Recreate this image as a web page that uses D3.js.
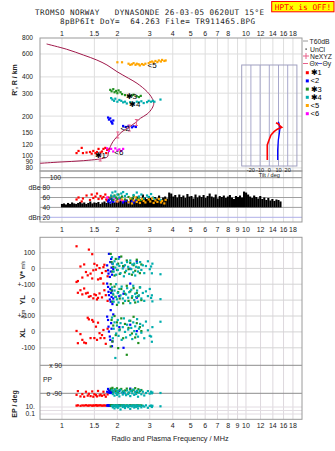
<!DOCTYPE html>
<html><head><meta charset="utf-8">
<script src="https://cdn.jsdelivr.net/npm/d3@7"></script>
<style>
body{margin:0;background:#fff}
svg{display:block}
text{font-family:"Liberation Sans",Arial,sans-serif;fill:#222}
.mono{font-family:"DejaVu Sans Mono","Liberation Mono",monospace;white-space:pre}
</style></head><body><script>
// ---------------- DATA ----------------
const titleLine1 = "TROMSO NORWAY   DYNASONDE 26-03-05 0620UT 15°E";
const titleLine2 = "8pBP6It DoY=  64.263 File= TR911465.BPG";
const warnText = "HPTx is OFF!";
const topTicks = [1,1.5,2,3,4,5,6,7,8,10,12,14,16,18];
const bottomTicks = [1,1.5,2,3,4,5,6,7,8,9,10,12,14,16,18];
const gridFreqs = [1,1.5,2,3,4,5,6,7,8,9,10,12,14,16,18];
const heightTicks = [800,600,400,300,200,150,120,100,90,80];
const dbTicks = [100,80,60,40,20];
const tiltTicks = [-20,-10,0,10,20];

// true-height profile (MHz, km)
const profF = [0.758,0.975,1.307,1.68,1.768,1.79,1.83,1.892,1.99,2.12,2.303,2.506,2.668,2.903,3.09,3.154,3.09,2.903,2.559,2.303,1.99,1.755,1.547,1.307,1.061,0.825];
const profH = [86.8,88.8,90.9,94.8,97.6,106.6,116.4,127.2,139,151.8,164,178,192.4,207.5,230,251,274,308,357,390,439,494,539,589,652,716];
// NeXYZ markers
const neF = [1.613,2.01,2.323,2.537];
const neH = [95.3,143.2,162,178.6];

// echoes: frequency, virtual height, amplitude (dB)
const redF = [1.20,1.23,1.28,1.30,1.36,1.42,1.45,1.48,1.52,1.55,1.58,1.62,1.65,1.68,1.72,1.76,1.79,1.74];
const redH = [104,108,114,104,105,106,103,108,104,106,112,105,107,112,114,110,111,104];
const redA = [56,60,52,58,64,55,66,59,62,68,57,63,58,61,66,54,60,56];
const blueF = [1.78,1.80,1.83,1.85,1.87,1.90,1.88,2.15,2.22,2.30,2.40,2.45,2.52];
const blueH = [195,188,192,182,178,185,175,168,165,168,164,167,165];
const blueA = [52,55,50,57,54,51,56,50,53,49,52,50,54];
const greenF = [1.83,1.86,1.90,1.93,1.97,2.00,2.03,2.08,2.12,2.20,2.30,2.40,2.45,2.55,2.62,2.68];
const greenH = [318,310,322,305,312,300,315,305,295,290,285,288,292,284,280,286];
const greenA = [58,62,55,64,60,57,66,59,62,56,61,58,63,57,60,55];
const cyanF = [1.85,1.88,1.92,1.95,2.00,2.05,2.10,2.15,2.20,2.25,2.35,2.45,2.55,2.62,2.70,2.78,2.90,2.96,3.05,3.12,3.18,3.43];
const cyanH = [275,268,262,272,258,266,262,255,258,250,256,252,258,255,260,252,256,262,258,262,258,268];
const cyanA = [64,70,62,72,66,60,68,71,63,67,59,65,70,62,66,58,64,61,67,60,57,55];
const orangeF = [2.00,2.12,2.30,2.35,2.40,2.45,2.51,2.55,2.61,2.65,2.72,2.78,2.84,2.96,3.02,3.09,3.15,3.22,3.30,3.36,3.45,3.50,3.60,3.66];
const orangeH = [518,518,505,495,500,510,495,505,500,490,502,495,505,510,520,525,515,530,520,535,525,540,530,535];
const orangeA = [52,56,50,58,48,54,60,51,55,49,57,53,50,56,52,58,49,54,51,57,50,53,48,55];
const magF = [1.76,1.80,1.85,1.90,1.95,2.00,2.05,2.10,2.15];
const magH = [113,108,112,107,113,109,111,108,112];
const magA = [60,56,62,54,58,52,57,55,53];

// echo-group centroids: label, freq, height
const centLabels = ["✱1","<2","✱3","✱4","<5","<6"];
const centF = [1.56,2.16,2.30,2.40,3.03,2.00];
const centH = [100,163,285,247,495,106];

// noise (dB tops) from 1.0 to 15.4 MHz
const noiseFmin = 1.0, noiseFmax = 15.4, noiseFloor = 40;
const noiseTop = [47,48,46,49,47,50,48,47,49,51,48,50,47,49,52,48,50,49,51,47,50,52,49,51,48,
 53,50,55,52,57,51,54,56,52,58,60,55,62,58,54,66,60,57,63,59,55,61,58,64,56,60,62,58,
 70,68,62,65,60,66,61,64,59,67,62,63,58,66,60,64,61,65,59,63,68,62,60,66,58,63,61,64,59,62,
 65,60,57,63,61,64,60,72,70,66,62,59,64,61,58,63,57,60,55,59,54,57,53,56,55,52];

// tilt profiles (deg, km)
const tiltXdeg = [-2.2,-2.2,-0.3,1.8,5.1,8.7,13.5,11.6,9.8,7.3];
const tiltXh   = [92,120,131,143,152,158.6,164,168,174,178];
const tiltYdeg = [9.1,9.1,9.8,10.9,11.6,10.5,9.8];
const tiltYh   = [92,110,131,147,161,176,181];

// lower panel: per echo V* (m/s), YL (km), XL (km), PP (deg), EP (deg)
const rLF = [1.20,1.22,1.26,1.29,1.32,1.35,1.38,1.40,1.43,1.46,1.48,1.50,1.53,1.55,1.57,1.60,1.62,1.65,1.68,1.70,1.73,1.77];
const rV  = [140,-80,12,-58,25,-23,-44,119,-33,90,-12,29,-8,19,-70,2,-64,-29,8,23,-17,-50];
const rYL = [114,46,62,36,73,42,46,21,25,136,11,36,31,4,14,42,136,17,104,62,31,-5];
const rXL = [6,-71,-14,-50,-67,-71,89,79,-39,75,64,-39,33,-50,58,-8,-39,-20,12,-39,-75,20];
const rPP = [-100,-76,-110,-95,-112,-80,-105,-93,-108,-78,-112,-96,-102,-110,-75,-104,-98,-106,-80,-100,-112,-97];
const rEP = [25,30,22,28,26,32,24,27,30,23,28,26,33,25,27,29,31,24,26,28,25,30];
const bLF = [1.76,1.78,1.79,1.80,1.82,1.83,1.84,1.85,1.86,1.87,1.88,1.90,2.05,2.16,2.35,2.55];
const bV  = [19,-12,-33,92,-54,40,-20,60,5,-40,30,-5,71,12,-2,45];
const bYL = [104,83,52,31,4,70,-10,45,20,60,-25,10,25,40,104,15];
const bXL = [96,75,33,2,-29,-50,137,55,20,-90,-60,110,30,-100,45,5];
const bPP = [-80,-62,-85,-72,-88,-78,-82,-66,-88,-76,-84,-79,-74,-86,-60,-77];
const bEP = [26,30,24,28,32,25,27,29,23,31,26,28,30,24,27,25];
const gLF = [1.84,1.86,1.88,1.90,1.93,1.96,1.99,2.02,2.06,2.10,2.15,2.20,2.25,2.30,2.35,2.40,2.45,2.50,2.55,2.60,2.65,2.70];
const gV  = [92,40,-20,10,-45,60,-10,30,-35,75,15,-25,50,-5,35,-40,20,-15,55,5,-30,25];
const gYL = [100,60,-10,35,85,20,-30,50,10,70,-20,40,90,-5,55,15,75,-15,45,25,80,0];
const gXL = [-92,75,-60,40,100,-20,60,-102,15,85,-40,50,-144,25,70,-10,95,-35,55,-70,30,5];
const gPP = [-60,-70,-55,-80,-65,-75,-58,-85,-68,-62,-78,-72,-60,-88,-66,-74,-70,-57,-82,-64,-76,-69];
const gEP = [30,26,33,28,24,31,27,29,25,32,28,26,30,24,29,27,31,25,28,30,26,29];
const cLF = [1.87,1.89,1.91,1.93,1.95,1.97,1.99,2.01,2.03,2.05,2.08,2.11,2.14,2.17,2.20,2.23,2.26,2.29,2.32,2.35,2.38,2.41,2.44,2.47,2.50,2.53,2.56,2.59,2.62,2.66,2.70,2.75,2.80,2.86,2.93,3.00,3.05,3.08,3.10,3.43];
const cV  = [71,30,-20,45,5,-40,25,-10,60,15,-30,35,0,-50,20,-15,40,10,-35,50,-5,25,-25,30,-45,10,35,-20,5,40,-10,20,-30,15,45,-5,12,-31,30,-37];
const cYL = [80,40,-10,60,20,100,5,45,-15,70,30,85,10,55,-5,35,75,15,50,-19,65,25,90,0,40,20,60,-10,30,80,10,45,-5,55,25,70,14,30,-8,6];
const cXL = [90,-40,20,60,-164,-10,40,75,-25,10,55,-50,30,85,0,-35,45,15,70,-20,25,-45,60,5,35,-15,80,-30,20,50,-5,40,-40,65,10,-25,-29,-62,30,64];
const cPP = [-70,-95,-80,-105,-65,-88,-100,-75,-92,-110,-68,-85,-98,-78,-90,-102,-72,-95,-84,-108,-76,-90,-66,-100,-82,-94,-74,-112,-86,-70,-96,-80,-104,-88,-76,-92,-80,-90,-85,-88];
const cEP = [20,8,30,4,25,12,28,6,22,15,2,26,10,30,5,18,27,9,24,3,21,14,29,7,25,11,28,4,19,26,8,23,13,30,6,20,25,10,22,16];

const colors = {red:"#ff0000",blue:"#0000ff",green:"#1f8f1f",cyan:"#00adad",orange:"#ffa500",magenta:"#ff00ff"};
const legendItems = [["✱1","red"],["<2","blue"],["✱3","green"],["✱4","cyan"],["<5","orange"],["<6","magenta"]];

// ---------------- LAYOUT ----------------
const W=335,H=451, L=40, R=302;
const P1={top:38,bottom:171}, P2={top:171,bottom:222}, P3={top:237.3,bottom:419.3};
const svg=d3.select("body").append("svg").attr("width",W).attr("height",H);

const x=d3.scaleLog().domain([0.7595,20.16]).range([L,R]);
const yH=d3.scaleLog().domain([100,800]).range([155.3,37.7]);
const yDB=d3.scaleLinear().domain([20,100]).range([217.3,177.7]);
const yV=d3.scaleLinear().domain([-100,100]).range([284.2,252.6]);
const yYL=d3.scaleLinear().domain([-100,100]).range([316,284.2]);
const yXL=d3.scaleLinear().domain([-100,100]).range([347.8,316]);
const yPP=d3.scaleLinear().domain([-90,90]).range([393.3,365.3]);
const yEP=d3.scaleLog().domain([0.1,10]).range([414,407]);
const xT=d3.scaleLinear().domain([-30,30]).range([241.7,296.9]);

const defs=svg.append("defs");
function clip(id,p){defs.append("clipPath").attr("id",id).append("rect").attr("x",L).attr("y",p.top).attr("width",R-L).attr("height",p.bottom-p.top);}
clip("c1",P1);clip("c2",P2);clip("c3",P3);

// ---------- titles ----------
svg.append("text").attr("class","mono").attr("x",35).attr("y",14.6).attr("font-size",7.6)
 .attr("textLength",229).attr("lengthAdjust","spacing").text(titleLine1);
svg.append("text").attr("class","mono").attr("x",60).attr("y",23.6).attr("font-size",7.6)
 .attr("textLength",195).attr("lengthAdjust","spacing").text(titleLine2);
svg.append("rect").attr("x",271.7).attr("y",1.5).attr("width",62.3).attr("height",10.3).attr("fill","#ffff00").attr("stroke","#ff0000").attr("stroke-width",1);
svg.append("text").attr("class","mono").attr("x",303).attr("y",9.8).attr("text-anchor","middle").attr("font-size",7.8).style("fill","#ff0000").text(warnText);

// ---------- grids ----------
function vgrid(p,col){
  svg.append("g").selectAll("line").data(gridFreqs).enter().append("line")
   .attr("x1",d=>x(d)).attr("x2",d=>x(d)).attr("y1",p.top).attr("y2",p.bottom)
   .attr("stroke",col).attr("stroke-width",1);
}
vgrid(P1,"#dedede");vgrid(P2,"#dedede");vgrid(P3,"#ddd8dd");

svg.append("g").selectAll("line").data(heightTicks.slice(1)).enter().append("line")
 .attr("x1",L).attr("x2",R).attr("y1",d=>yH(d)).attr("y2",d=>yH(d)).attr("stroke","#dedede");
svg.append("g").selectAll("line").data(dbTicks).enter().append("line")
 .attr("x1",L).attr("x2",R).attr("y1",d=>yDB(d)).attr("y2",d=>yDB(d))
 .attr("stroke",d=>d===20?"#b0b0e8":(d===100?"#8a8a8a":"#a0a0a0"));
const lowLines=[[yV,100],[yV,0],[yV,-100],[yYL,0],[yYL,-100],[yXL,0],[yXL,-100]];
svg.append("g").selectAll("line").data(lowLines).enter().append("line")
 .attr("x1",L).attr("x2",R).attr("y1",d=>d[0](d[1])).attr("y2",d=>d[0](d[1])).attr("stroke","#d4d4d4");
svg.append("g").selectAll("line").data([90,-90]).enter().append("line")
 .attr("x1",L).attr("x2",R).attr("y1",d=>yPP(d)).attr("y2",d=>yPP(d)).attr("stroke","#8c8c8c");
svg.append("g").selectAll("line").data([10,1,0.1]).enter().append("line")
 .attr("x1",L).attr("x2",R).attr("y1",d=>yEP(d)).attr("y2",d=>yEP(d)).attr("stroke","#e2dce2");

// ---------- frames ----------
[P1,P2,P3].forEach(p=>{
  svg.append("rect").attr("x",L).attr("y",p.top).attr("width",R-L).attr("height",p.bottom-p.top)
   .attr("fill","none").attr("stroke","#9a9a9a").attr("stroke-width",1);
});

// ---------- inset (tilt) ----------
const gi=svg.append("g");
gi.selectAll("line").data(tiltTicks).enter().append("line")
 .attr("x1",d=>xT(d)).attr("x2",d=>xT(d)).attr("y1",65).attr("y2",166).attr("stroke","#a8a8cc");
gi.append("rect").attr("x",xT(-30)).attr("y",65).attr("width",xT(30)-xT(-30)).attr("height",101)
 .attr("fill","none").attr("stroke","#a0a0c0");
gi.selectAll("text.tt").data(tiltTicks).enter().append("text").attr("class","tt")
 .attr("x",d=>xT(d)).attr("y",171.5).attr("text-anchor","middle").attr("font-size",5.6).text(d=>d);
gi.append("text").attr("x",xT(0)).attr("y",177).attr("text-anchor","middle").attr("font-size",5.6).text("Tilt / deg");
const lineT=d3.line().x(d=>xT(d[0])).y(d=>yH(d[1]));
gi.append("path").attr("d",lineT(tiltYdeg.map((d,i)=>[d,tiltYh[i]]))).attr("fill","none").attr("stroke","#0000ff").attr("stroke-width",1.3);
gi.append("path").attr("d",lineT(tiltXdeg.map((d,i)=>[d,tiltXh[i]]))).attr("fill","none").attr("stroke","#ff0000").attr("stroke-width",1.6);

// ---------- ionogram ----------
const g1=svg.append("g").attr("clip-path","url(#c1)");
const lineP=d3.line().x(d=>x(d[0])).y(d=>yH(d[1])).curve(d3.curveCatmullRom);
g1.append("path").attr("d",lineP(profF.map((f,i)=>[f,profH[i]]))).attr("fill","none").attr("stroke","#a0184a").attr("stroke-width",1);
function pts(g,fs,vs,ys,col,s){
  s=s||2.2;
  g.append("g").selectAll("rect").data(fs.map((f,i)=>[f,vs[i]])).enter().append("rect")
   .attr("x",d=>x(d[0])-s/2).attr("y",d=>ys(d[1])-s/2).attr("width",s).attr("height",s).attr("fill",col);
}
pts(g1,redF,redH,yH,colors.red);
pts(g1,magF,magH,yH,colors.magenta);
pts(g1,blueF,blueH,yH,colors.blue);
pts(g1,greenF,greenH,yH,colors.green);
pts(g1,cyanF,cyanH,yH,colors.cyan);
pts(g1,orangeF,orangeH,yH,colors.orange);
const ne=g1.append("g").attr("stroke","#e8608a").attr("stroke-width",1);
neF.forEach((f,i)=>{
  const cx=x(f),cy=yH(neH[i]);
  ne.append("line").attr("x1",cx).attr("x2",cx).attr("y1",cy-3).attr("y2",cy+3);
  ne.append("line").attr("x1",cx-1.5).attr("x2",cx+1.5).attr("y1",cy-3).attr("y2",cy-3);
  ne.append("line").attr("x1",cx-1.5).attr("x2",cx+1.5).attr("y1",cy+3).attr("y2",cy+3);
});
g1.append("g").selectAll("text").data(centLabels).enter().append("text")
 .attr("x",(d,i)=>x(centF[i])-3).attr("y",(d,i)=>yH(centH[i])+3).attr("font-size",8).attr("font-family","DejaVu Sans")
 .style("fill","#000").text(d=>d);

svg.append("g").selectAll("text").data(heightTicks).enter().append("text")
 .attr("x",33).attr("y",d=>yH(d)+2.4).attr("text-anchor","end").attr("font-size",6.6).text(d=>d);
svg.append("text").attr("transform","translate(17,80) rotate(-90)").attr("text-anchor","middle")
 .attr("font-size",7).attr("font-weight","bold").text("R', R / km");
svg.append("g").selectAll("text").data(topTicks).enter().append("text")
 .attr("x",d=>x(d)).attr("y",36).attr("text-anchor","middle").attr("font-size",7).text(d=>d);

// ---------- dBe panel ----------
const g2=svg.append("g").attr("clip-path","url(#c2)");
const nN=noiseTop.length;
const noiseF=d3.range(nN).map(i=>noiseFmin*Math.pow(noiseFmax/noiseFmin,i/(nN-1)));
g2.append("g").selectAll("line").data(noiseTop).enter().append("line")
 .attr("x1",(d,i)=>x(noiseF[i])).attr("x2",(d,i)=>x(noiseF[i]))
 .attr("y1",yDB(noiseFloor)).attr("y2",d=>yDB(d)).attr("stroke","#000").attr("stroke-width",2.1);
pts(g2,redF,redA,yDB,colors.red);
pts(g2,magF,magA,yDB,colors.magenta);
pts(g2,blueF,blueA,yDB,colors.blue);
pts(g2,greenF,greenA,yDB,colors.green);
pts(g2,cyanF,cyanA,yDB,colors.cyan);
pts(g2,orangeF,orangeA,yDB,colors.orange);
const dbLab=[["100",100,61],["dBe 80",80,50],["60",60,50],["40",40,50],["dBn 20",20,50]];
svg.append("g").selectAll("text").data(dbLab).enter().append("text")
 .attr("x",d=>d[2]).attr("y",d=>yDB(d[1])+2.4).attr("text-anchor","end").attr("font-size",6.8).text(d=>d[0]);
svg.append("g").selectAll("text").data(bottomTicks).enter().append("text")
 .attr("x",d=>x(d)).attr("y",231.5).attr("text-anchor","middle").attr("font-size",7).text(d=>d);

// ---------- lower panel ----------
const g3=svg.append("g").attr("clip-path","url(#c3)");
[[rLF,rV,rYL,rXL,rPP,rEP,colors.red],[bLF,bV,bYL,bXL,bPP,bEP,colors.blue],
 [gLF,gV,gYL,gXL,gPP,gEP,colors.green],[cLF,cV,cYL,cXL,cPP,cEP,colors.cyan]].forEach(s=>{
  pts(g3,s[0],s[1],yV,s[6]);
  pts(g3,s[0],s[2],yYL,s[6]);
  pts(g3,s[0],s[3],yXL,s[6]);
  pts(g3,s[0],s[4],yPP,s[6]);
  pts(g3,s[0],s[5],yEP,s[6]);
});
const lowLab=[["100",yV(100)],["0",yV(0)],["+-100",yV(-100)],["0",yYL(0)],["+-100",yYL(-100)],["0",yXL(0)],["-100",yXL(-100)],["10.",yEP(10)],["0.1",yEP(0.1)]];
svg.append("g").selectAll("text").data(lowLab).enter().append("text")
 .attr("x",35).attr("y",d=>d[1]+2.4).attr("text-anchor","end").attr("font-size",6.8).text(d=>d[0]);
svg.append("text").attr("x",62).attr("y",yPP(90)+2.4).attr("text-anchor","end").attr("font-size",6.8).text("x  90");
svg.append("text").attr("x",62).attr("y",yPP(-90)+2.4).attr("text-anchor","end").attr("font-size",6.8).text("o -90");
svg.append("text").attr("x",43).attr("y",yPP(0)+3).attr("font-size",6.8).text("PP");
const vt=svg.append("text").attr("transform","translate(25,279) rotate(-90)").attr("font-size",7.5).attr("font-weight","bold");
vt.append("tspan").text("V*");vt.append("tspan").attr("font-size",5).attr("font-weight","normal").attr("dx",2).text("m/s");
svg.append("text").attr("transform","translate(25,300) rotate(-90)").attr("text-anchor","middle").attr("font-size",7.5).attr("font-weight","bold").text("YL");
svg.append("text").attr("transform","translate(25,314) rotate(-90)").attr("text-anchor","middle").attr("font-size",5.5).text("/km");
svg.append("text").attr("transform","translate(25,333) rotate(-90)").attr("text-anchor","middle").attr("font-size",7.5).attr("font-weight","bold").text("XL");
svg.append("text").attr("transform","translate(17,404) rotate(-90)").attr("text-anchor","middle").attr("font-size",7).attr("font-weight","bold").text("EP / deg");
svg.append("g").selectAll("text").data(bottomTicks).enter().append("text")
 .attr("x",d=>x(d)).attr("y",427.5).attr("text-anchor","middle").attr("font-size",7).text(d=>d);
svg.append("text").attr("x",170).attr("y",440.5).attr("text-anchor","middle").attr("font-size",7.3).text("Radio and Plasma Frequency / MHz");

// ---------- legend ----------
const lg=svg.append("g").attr("font-size",6.8);
lg.append("line").attr("x1",303).attr("x2",308).attr("y1",41).attr("y2",41).attr("stroke","#999");
lg.append("text").attr("x",309.5).attr("y",43.5).text("T60dB");
lg.append("rect").attr("x",305.5).attr("y",48.5).attr("width",1.2).attr("height",1.2).attr("fill","#000");
lg.append("text").attr("x",310).attr("y",51.5).text("UnCl");
lg.append("line").attr("x1",303).attr("x2",309).attr("y1",56).attr("y2",56).attr("stroke","#e8608a");
lg.append("line").attr("x1",306).attr("x2",306).attr("y1",53).attr("y2",59).attr("stroke","#e8608a");
lg.append("text").attr("x",310).attr("y",58.5).text("NeXYZ");
lg.append("line").attr("x1",303).attr("x2",308).attr("y1",63.5).attr("y2",63.5).attr("stroke","#e8608a");
lg.append("text").attr("x",309.5).attr("y",66).attr("font-family","DejaVu Sans").text("Θx");
lg.append("line").attr("x1",317.5).attr("x2",322).attr("y1",63.5).attr("y2",63.5).attr("stroke","#5555dd");
lg.append("text").attr("x",322.5).attr("y",66).attr("font-family","DejaVu Sans").text("Θy");
legendItems.forEach((d,i)=>{
  const yy=72.7+i*8.2;
  lg.append("rect").attr("x",305.8).attr("y",yy-1.5).attr("width",3).attr("height",3).attr("fill",colors[d[1]]);
  lg.append("text").attr("x",310.5).attr("y",yy+2.5).attr("font-size",7.5).attr("font-family","DejaVu Sans").style("fill","#000").text(d[0]);
});
</script></body></html>
